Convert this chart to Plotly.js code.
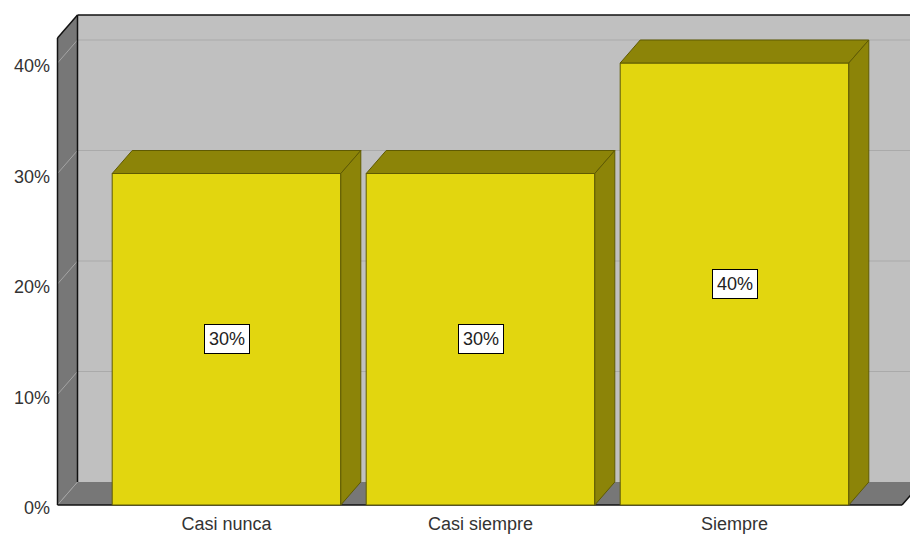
<!DOCTYPE html>
<html>
<head>
<meta charset="utf-8">
<script src="https://cdn.plot.ly/plotly-3.0.1.min.js"></script>
<style>html,body{margin:0;padding:0;background:#fff;}#chart{width:910px;height:535px;}</style>
</head>
<body>
<div id="chart"></div>
<script>
// ---- data ----
const categories = ['Casi nunca', 'Casi siempre', 'Siempre'];
const percents = [30, 30, 40];
const valueLabels = ['30%', '30%', '40%'];
const yTickVals = [0, 10, 20, 30, 40];
const yTickText = ['0%', '10%', '20%', '30%', '40%'];

// ---- geometry / style (3D depth effect in axis units) ----
const PX_X = 254, PX_Y = 11.05;          // pixels per category / per percent
const DX = 20 / PX_X, DY = 23 / PX_Y;    // depth offset
const X_LEFT = (57.5 - 226.5) / PX_X;    // front-left edge of the box
const X_RIGHT = (902 - 226.5) / PX_X;    // front-right end of the floor
const Y_TOP = 42.26;                     // top of the box (front)
const X_FAR = 3.2;
const BAR_W = 0.9;

const FRONT = '#e2d60f', DARK = '#8c8408', EDGE = '#5f5a02';
const WALL = '#c0c0c0', SIDE = '#777777';

const traces = [];
traces.push({
  type: 'bar', x: categories.map((c, i) => i), y: percents, width: BAR_W,
  marker: {color: FRONT, line: {color: EDGE, width: 1}},
  hoverinfo: 'skip', showlegend: false
});
percents.forEach((v, i) => {
  const x0 = i - BAR_W / 2, x1 = i + BAR_W / 2;
  // top face
  traces.push({type: 'scatter', mode: 'lines', fill: 'toself', fillcolor: DARK,
    x: [x0, x0 + DX, x1 + DX, x1, x0], y: [v, v + DY, v + DY, v, v],
    line: {color: EDGE, width: 1}, hoverinfo: 'skip', showlegend: false});
  // side face
  traces.push({type: 'scatter', mode: 'lines', fill: 'toself', fillcolor: DARK,
    x: [x1, x1 + DX, x1 + DX, x1, x1], y: [0, DY, v + DY, v, 0],
    line: {color: EDGE, width: 1}, hoverinfo: 'skip', showlegend: false});
});

const shapes = [];
const poly = (pts, fill) => ({type: 'path', xref: 'x', yref: 'y', layer: 'below',
  path: 'M ' + pts.map(p => p[0] + ',' + p[1]).join(' L ') + ' Z',
  fillcolor: fill, line: {width: 0}});
const seg = (a, b, color, w) => ({type: 'line', xref: 'x', yref: 'y', layer: 'below',
  x0: a[0], y0: a[1], x1: b[0], y1: b[1], line: {color: color, width: w}});

// back wall
shapes.push(poly([[X_LEFT + DX, DY], [X_FAR, DY], [X_FAR, Y_TOP + DY], [X_LEFT + DX, Y_TOP + DY]], WALL));
// floor
shapes.push(poly([[X_LEFT, 0], [X_LEFT + DX, DY], [X_RIGHT + DX, DY], [X_RIGHT, 0]], SIDE));
// left wall
shapes.push(poly([[X_LEFT, 0], [X_LEFT + DX, DY], [X_LEFT + DX, Y_TOP + DY], [X_LEFT, Y_TOP]], SIDE));
// gridlines
yTickVals.forEach(t => {
  if (t > 0) shapes.push(seg([X_LEFT + DX, t + DY], [X_FAR, t + DY], '#aaaaaa', 1));
  shapes.push(seg([X_LEFT, t], [X_LEFT + DX, t + DY], '#a4a4a4', 1));
});
// edges
shapes.push(seg([X_LEFT, 0], [X_LEFT, Y_TOP], '#111', 1.5));
shapes.push(seg([X_LEFT, Y_TOP], [X_LEFT + DX, Y_TOP + DY], '#111', 1.5));
shapes.push(seg([X_LEFT + DX, DY], [X_LEFT + DX, Y_TOP + DY], '#111', 1.5));
shapes.push(seg([X_LEFT + DX, Y_TOP + DY], [X_FAR, Y_TOP + DY], '#111', 1.5));
shapes.push(seg([X_LEFT, 0], [X_RIGHT, 0], '#111', 1.5));
shapes.push(seg([X_RIGHT, 0], [X_RIGHT + DX, DY], '#111', 1.5));

const annotations = percents.map((v, i) => ({
  x: i, y: v / 2, xref: 'x', yref: 'y', text: valueLabels[i], showarrow: false,
  bgcolor: '#ffffff', bordercolor: '#000000', borderwidth: 1, borderpad: 4,
  font: {family: 'Liberation Sans, Arial, sans-serif', size: 18, color: '#222'}
}));

const font = {family: 'Liberation Sans, Arial, sans-serif', size: 18, color: '#333'};
const layout = {
  width: 910, height: 535,
  margin: {l: 55, r: 0, t: 13, b: 28, pad: 0},
  paper_bgcolor: '#ffffff', plot_bgcolor: 'rgba(0,0,0,0)',
  font: font, showlegend: false, bargap: 0,
  xaxis: {range: [(55 - 226.5) / PX_X, (910 - 226.5) / PX_X], tickvals: [0, 1, 2], ticktext: categories,
    showgrid: false, zeroline: false, showline: false, ticks: '', tickfont: font,
    ticklabelstandoff: 4, fixedrange: true},
  yaxis: {range: [-2 / PX_Y, (505 - 13) / PX_Y], tickvals: yTickVals, ticktext: yTickText,
    showgrid: false, zeroline: false, showline: false, ticks: '', tickfont: font,
    ticklabelstandoff: 4, ticklabelshift: 3, fixedrange: true},
  shapes: shapes, annotations: annotations
};
Plotly.newPlot('chart', traces, layout, {displayModeBar: false, staticPlot: true});
</script>
</body>
</html>
